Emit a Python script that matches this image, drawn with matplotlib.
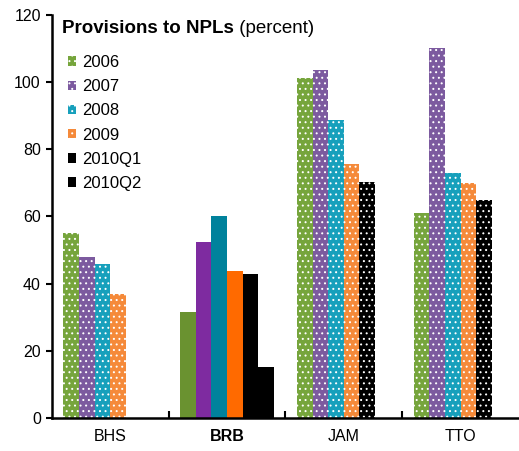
import matplotlib.pyplot as plt
import numpy as np

plt.rcParams['font.family'] = ['Liberation Sans', 'DejaVu Sans']
plt.rcParams['hatch.linewidth'] = 0.7

# 数据
countries = ['BHS', 'BRB', 'JAM', 'TTO']
series = ['2006', '2007', '2008', '2009', '2010Q1', '2010Q2']
v2006 = [55.0, 31.6, 101.3, 61.0]
v2007 = [48.0, 52.4, 103.6, 110.0]
v2008 = [46.0, 60.1, 88.7, 72.8]
v2009 = [37.0, 43.7, 75.5, 70.0]
v2010q1 = [np.nan, 42.9, 70.2, 64.9]
v2010q2 = [np.nan, 15.3, np.nan, np.nan]
values = [v2006, v2007, v2008, v2009, v2010q1, v2010q2]

solid_country = 'BRB'
dotted_colors = ['#76A53C', '#7C5A9F', '#17A0BC', '#F58A3A', '#000000', '#000000']
solid_colors = ['#6A9230', '#7E2BA0', '#00829C', '#FF6A00', '#000000', '#000000']

fig = plt.figure(figsize=(5.19, 4.51), dpi=100)
ax = fig.add_axes([0.1, 0.073, 0.9, 0.894])

w = 0.134
x = np.arange(len(countries))
handles = []
for j, (name, vals) in enumerate(zip(series, values)):
    vals = np.array(vals, dtype=float)
    pos = x + (j - 2.5) * w
    for i, c in enumerate(countries):
        if np.isnan(vals[i]):
            continue
        if c == solid_country:
            ax.bar(pos[i], vals[i], w, color=solid_colors[j], linewidth=0)
        else:
            ax.bar(pos[i], vals[i], w, color=dotted_colors[j], edgecolor='white',
                   linewidth=0, hatch='...')
    if j < 4:
        h = plt.Rectangle((0, 0), 1, 1, facecolor=dotted_colors[j], edgecolor='white',
                          linewidth=0, hatch='...')
    else:
        h = plt.Rectangle((0, 0), 1, 1, facecolor='black', linewidth=0)
    handles.append(h)

ax.set_xlim(-0.5, 3.5)
ax.set_ylim(0, 120)
ax.set_yticks(range(0, 121, 20))
ax.set_xticks(x)
ax.set_xticklabels(countries)
ax.set_xticks([0.5, 1.5, 2.5], minor=True)
ax.tick_params(axis='x', which='major', length=0, labelsize=11.5, pad=8)
ax.tick_params(axis='x', which='minor', direction='in', length=5, width=1.5)
ax.tick_params(axis='y', direction='out', length=4, width=1.5, labelsize=11.5, pad=4)
for lab in ax.get_xticklabels():
    if lab.get_text() == solid_country:
        lab.set_fontweight('bold')
for s in ['top', 'right']:
    ax.spines[s].set_visible(False)
for s in ['left', 'bottom']:
    ax.spines[s].set_linewidth(1.8)

# 标题 (图内)
t1 = ax.text(0.022, 0.987, 'Provisions to NPLs', transform=ax.transAxes,
             fontsize=13.5, fontweight='bold', va='top', ha='left')
fig.canvas.draw()
bb = t1.get_window_extent().transformed(ax.transAxes.inverted())
ax.text(bb.x1, 0.987, ' (percent)', transform=ax.transAxes,
        fontsize=13.5, va='top', ha='left')

ax.legend(handles, series, loc='upper left', bbox_to_anchor=(0.02, 0.917),
          frameon=False, fontsize=12, handlelength=0.5, handleheight=0.5,
          handletextpad=0.35, labelspacing=0.55, borderaxespad=0)

plt.savefig('out.png', dpi=100, facecolor='white')
